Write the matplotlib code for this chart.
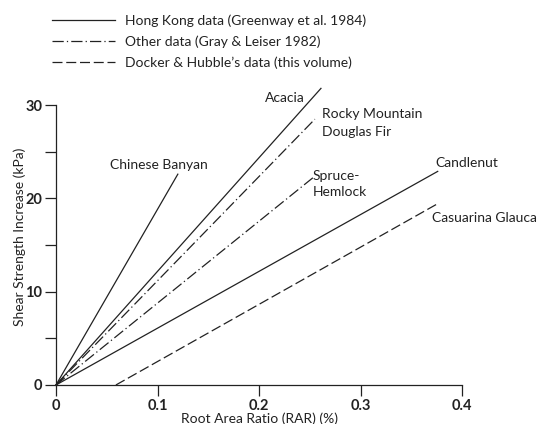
import matplotlib.pyplot as plt
from matplotlib.lines import Line2D

# species lines: start (x, y) and end (x, y), RAR in %, shear strength in kPa
SPECIES = ["Chinese Banyan", "Acacia", "Rocky Mountain\nDouglas Fir",
           "Spruce-\nHemlock", "Candlenut", "Casuarina Glauca"]
SOURCE = ["hk", "hk", "gray", "gray", "hk", "dh"]
X_START = [0.0, 0.0, 0.0, 0.0, 0.0, 0.059]
Y_START = [0.0, 0.0, 0.0, 0.0, 0.0, 0.0]
X_END = [0.120, 0.261, 0.255, 0.254, 0.376, 0.377]
Y_END = [22.6, 31.8, 28.5, 22.3, 22.9, 19.5]

LEGEND_LABELS = {
    "hk": "Hong Kong data (Greenway et al. 1984)",
    "gray": "Other data (Gray & Leiser 1982)",
    "dh": "Docker & Hubble\u2019s data (this volume)",
}
STYLES = {
    "hk": dict(linestyle="-"),
    "gray": dict(linestyle=(0, (9, 2.5, 1, 2.5))),
    "dh": dict(linestyle=(0, (8, 3))),
}

plt.rcParams["font.family"] = ["Lato", "DejaVu Sans"]
INK = "#222222"
FS = 10

fig = plt.figure(figsize=(5.4, 4.24), dpi=100)
ax = fig.add_axes([0.1037, 0.092, 0.752, 0.660])

for name, src, x0, y0, x1, y1 in zip(SPECIES, SOURCE, X_START, Y_START, X_END, Y_END):
    ax.plot([x0, x1], [y0, y1], color=INK, lw=0.9, clip_on=False, **STYLES[src])

# species labels
ax.text(0.053, 23.6, SPECIES[0], fontsize=FS, va="center", ha="left", color=INK)
ax.text(0.206, 30.8, SPECIES[1], fontsize=FS, va="center", ha="left", color=INK)
ax.text(0.262, 28.1, SPECIES[2], fontsize=FS, va="center", ha="left",
        color=INK, linespacing=1.55)
ax.text(0.253, 21.5, SPECIES[3], fontsize=FS, va="center", ha="left",
        color=INK, linespacing=1.4)
ax.text(0.374, 23.8, SPECIES[4], fontsize=FS, va="center", ha="left", color=INK)
ax.text(0.370, 17.9, SPECIES[5], fontsize=FS, va="center", ha="left", color=INK)

ax.set_xlim(0, 0.4)
ax.set_ylim(0, 30)
ax.set_xticks([0, 0.1, 0.2, 0.3, 0.4])
ax.set_xticklabels(["0", "0.1", "0.2", "0.3", "0.4"])
ax.set_yticks([0, 5, 10, 15, 20, 25, 30])
ax.set_yticklabels(["0", "", "10", "", "20", "", "30"])
ax.tick_params(length=8, width=0.9, color=INK, labelsize=10.5, pad=2,
               labelcolor=INK)
for lbl in ax.get_xticklabels() + ax.get_yticklabels():
    lbl.set_fontweight("bold")
for side in ["top", "right"]:
    ax.spines[side].set_visible(False)
for side in ["left", "bottom"]:
    ax.spines[side].set_linewidth(0.9)
    ax.spines[side].set_color(INK)

ax.set_xlabel("Root Area Ratio (RAR) (%)", fontsize=FS, color=INK, labelpad=0)
ax.set_ylabel("Shear Strength Increase (kPa)", fontsize=FS, color=INK)
ax.yaxis.set_label_coords(-0.075, 0.53)

handles = [Line2D([], [], color=INK, lw=0.9, **STYLES[k]) for k in ["hk", "gray", "dh"]]
fig.legend(handles, [LEGEND_LABELS[k] for k in ["hk", "gray", "dh"]],
           loc="upper left", bbox_to_anchor=(0.074, 0.995), frameon=False,
           fontsize=FS, handlelength=4.5, handletextpad=0.72, labelspacing=0.6,
           labelcolor=INK)

fig.savefig("out.png", dpi=100, facecolor="white")
